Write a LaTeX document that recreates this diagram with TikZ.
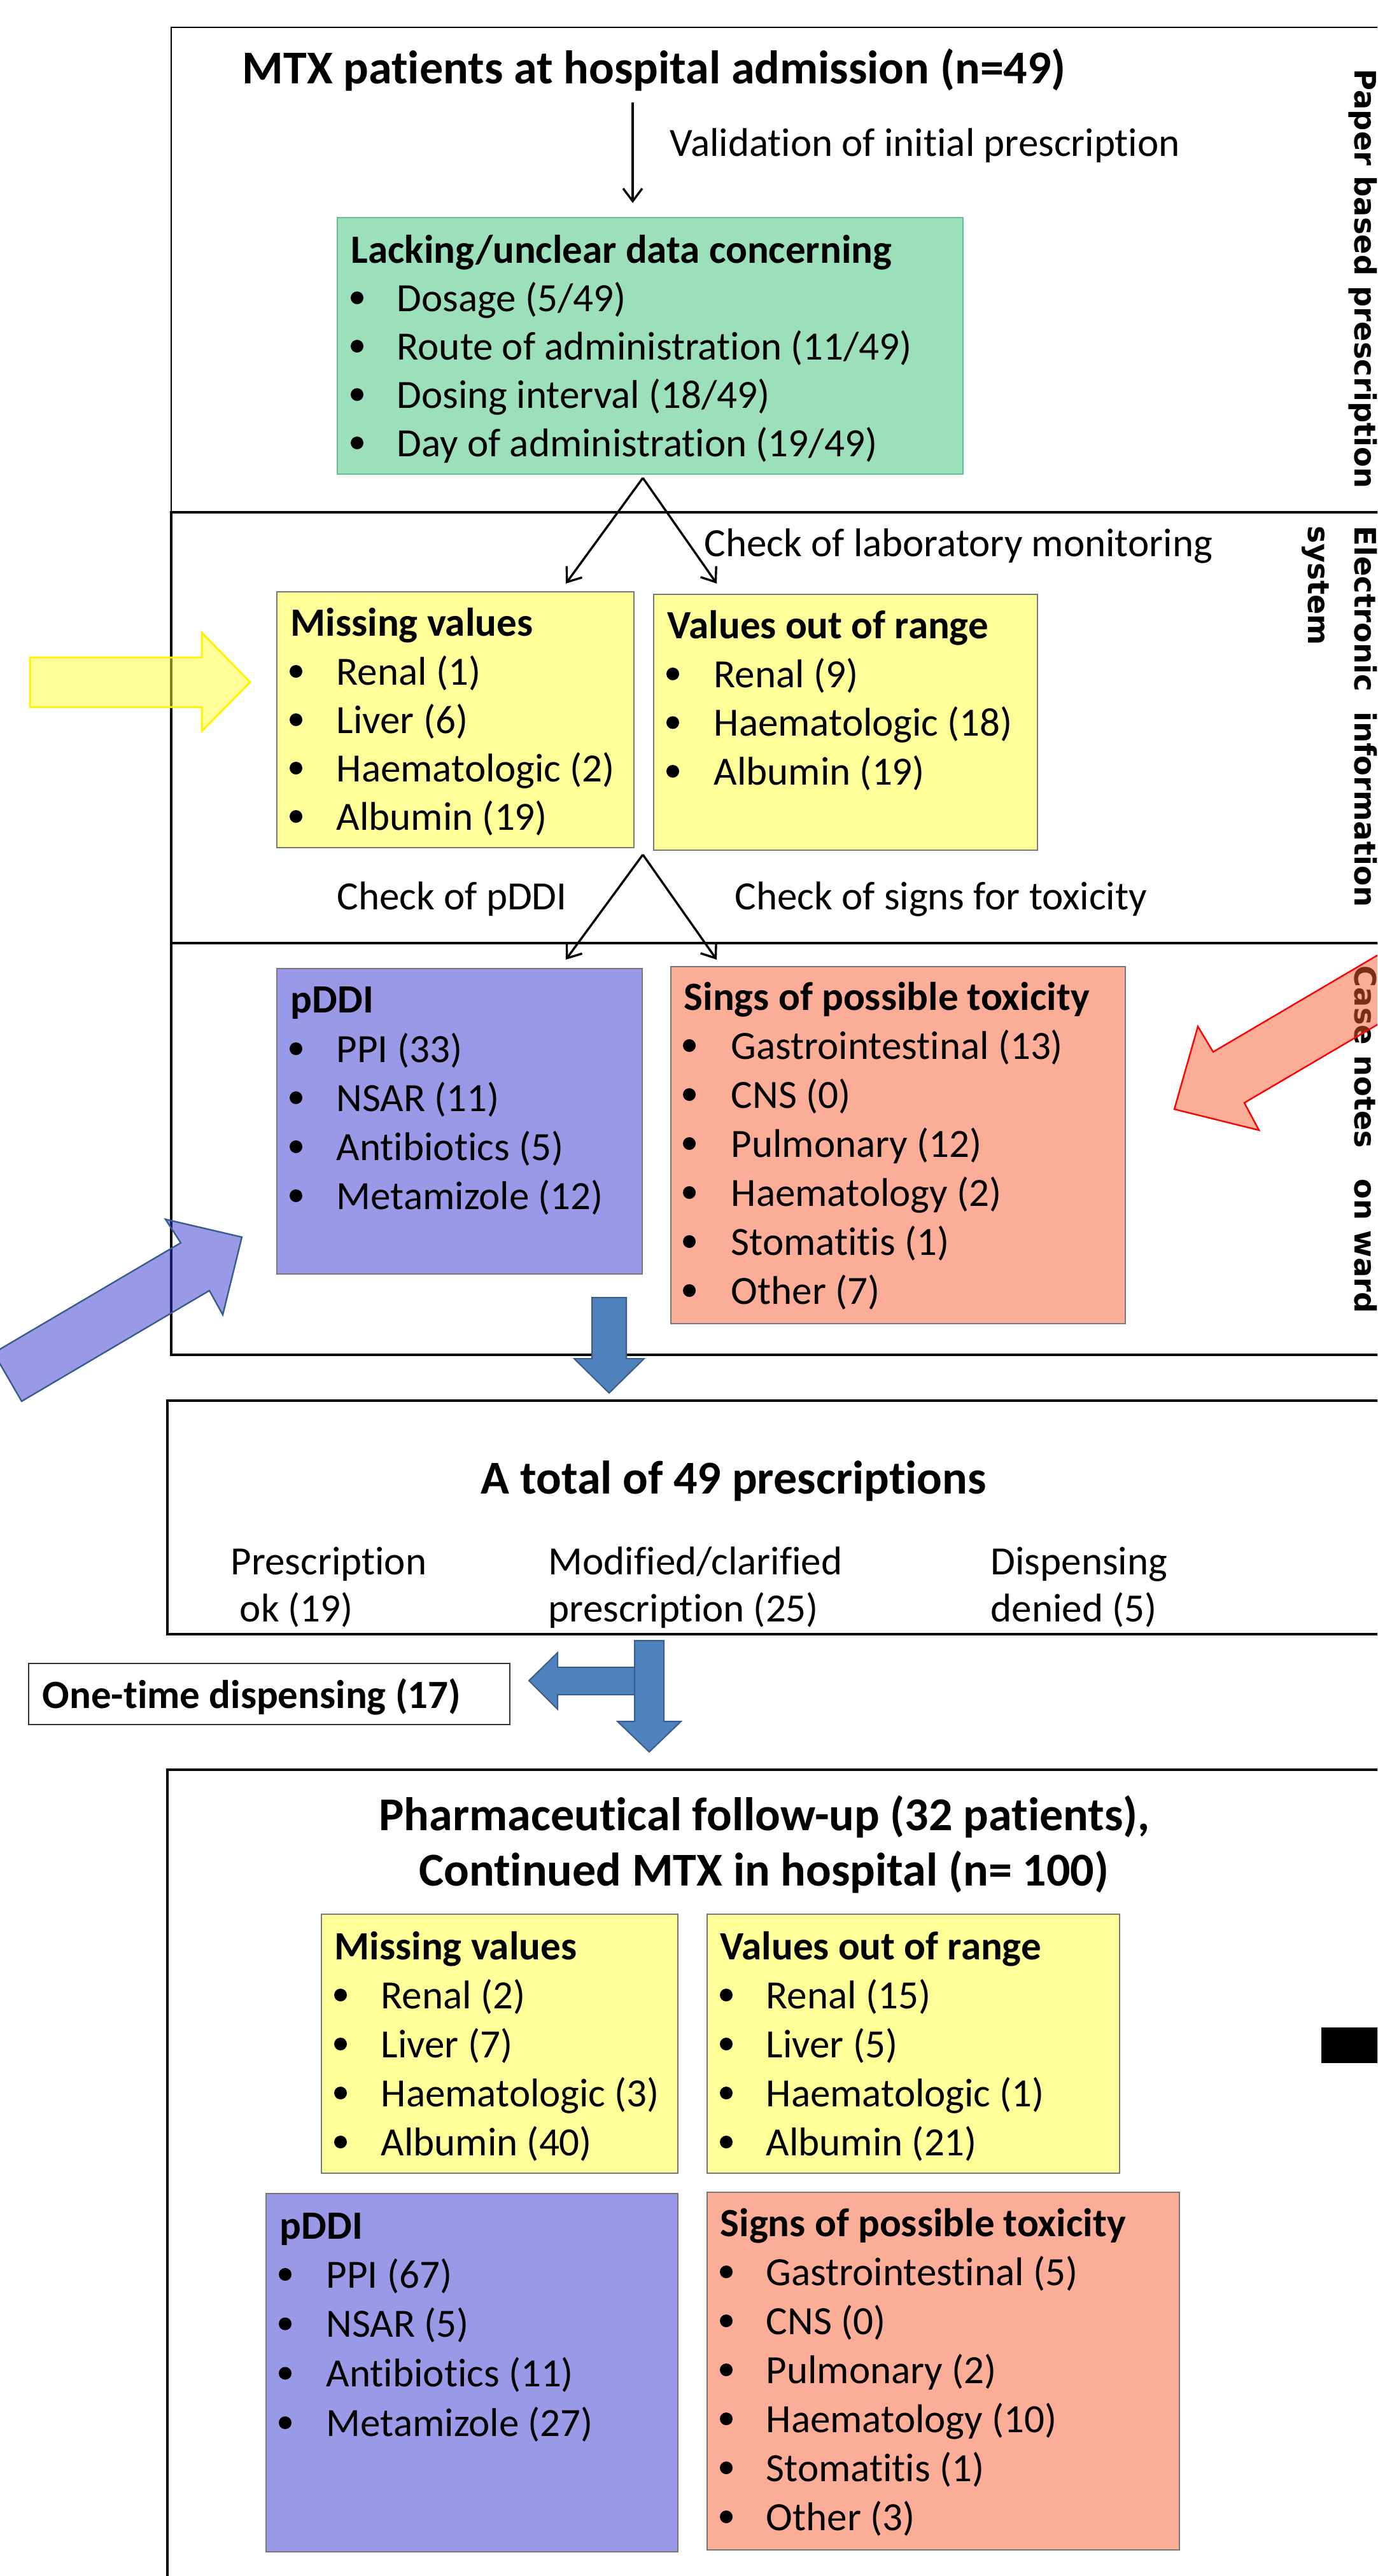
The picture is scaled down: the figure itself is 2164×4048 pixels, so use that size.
\documentclass[tikz,border=0pt]{standalone}
\usepackage{fontspec}
\setmainfont{Carlito}[Ligatures=NoCommon]
\newfontfamily\sidefont{DejaVu Sans}
\usetikzlibrary{arrows.meta,fit}
\definecolor{gfill}{RGB}{155,223,187}
\definecolor{gline}{RGB}{95,195,145}
\definecolor{yfill}{RGB}{255,255,153}
\definecolor{pfill}{RGB}{153,153,232}
\definecolor{sfill}{RGB}{252,173,152}
\definecolor{bfill}{RGB}{79,129,189}
\definecolor{bline}{RGB}{56,93,138}
\definecolor{boxline}{RGB}{120,120,120}
\definecolor{yarrow}{RGB}{255,255,51}
\definecolor{parrow}{RGB}{51,51,209}
\definecolor{sarrow}{RGB}{249,91,49}
\newcommand\bodyfont{\fontsize{15.75pt}{19pt}\selectfont}
\newcommand\headfont{\fontsize{18.5pt}{22pt}\selectfont\bfseries}
\newcommand\sidelab{\sidefont\bfseries\fontsize{11.6pt}{14pt}\selectfont}
\newcommand\blist[6]{%
  \foreach \t [count=\i from 0] in {#6}{%
    \node[dot] (#1b\i) at (#2,{#4+\i*#5-21}) {};
    \node[txt, anchor=base west] (#1t\i) at (#3,{#4+\i*#5}) {\t};
  }}
\begin{document}
\begin{tikzpicture}[x=0.25pt, y=-0.25pt,
  txt/.style={inner sep=0pt, font=\bodyfont},
  btxt/.style={inner sep=0pt, font=\bodyfont\bfseries},
  htxt/.style={inner sep=0pt, font=\headfont},
  dot/.style={circle, fill=black, inner sep=0pt, minimum size=5pt},
  side/.style={inner sep=0pt, font=\sidelab, rotate=-90, anchor=base west},
  secthin/.style={draw=black, line width=0.55pt, inner sep=0pt},
  secthick/.style={draw=black, line width=0.95pt, inner sep=0pt},
  gbox/.style={draw=gline, fill=gfill, line width=0.35pt, inner sep=0pt},
  ybox/.style={draw=boxline, fill=yfill, line width=0.35pt, inner sep=0pt},
  pbox/.style={draw=boxline, fill=pfill, line width=0.35pt, inner sep=0pt},
  sbox/.style={draw=boxline, fill=sfill, line width=0.35pt, inner sep=0pt},
  wbox/.style={draw=black!80, line width=0.45pt, inner sep=0pt},
  conn/.style={line width=0.85pt, -{Straight Barb[length=5pt,width=7.5pt,line width=0.85pt]}},
  bluearrow/.style={fill=bfill, draw=bline, line width=0.5pt}
]
\useasboundingbox (0,0) rectangle (2164,4048);
\clip (0,0) rectangle (2164,4048);

% sections
\node[secthin, fit={(269,43) (2220,805)}] (s1) {};
\node[secthick, fit={(269,805) (2220,1482)}] (s2) {};
\node[secthick, fit={(269,1482) (2220,2129)}] (s3) {};
\node[secthick, fit={(263,2201) (2220,2568)}] (s4) {};
\node[secthick, fit={(263,2781) (2220,4080)}] (s5) {};

% coloured boxes
\node[gbox, fit={(530,342) (1513,745)}] (green) {};
\node[ybox, fit={(435,930) (996,1332)}] (mv1) {};
\node[ybox, fit={(1027,934) (1630,1336)}] (vr1) {};
\node[pbox, fit={(435,1522) (1009,2002)}] (pd1) {};
\node[sbox, fit={(1054,1519) (1768,2080)}] (tx1) {};
\node[wbox, fit={(45,2614) (801,2710)}] (once) {};
\node[ybox, fit={(505,3008) (1065,3415)}] (mv2) {};
\node[ybox, fit={(1111,3008) (1759,3415)}] (vr2) {};
\node[pbox, fit={(418,3447) (1065,4010)}] (pd2) {};
\node[sbox, fit={(1111,3445) (1853,4007)}] (tx2) {};

% texts
\node[htxt, anchor=base west] (title) at (380,131) {MTX patients at hospital admission (n=49)};
\node[txt, anchor=base west] (valid) at (1052,245) {Validation of initial prescription};
\node[btxt, anchor=base west] (gt) at (551,413) {Lacking/unclear data concerning};
\blist{g}{561}{623}{489}{76}{Dosage (5/49),Route of administration (11/49),Dosing interval (18/49),Day of administration (19/49)}
\node[txt, anchor=base west] (chklab) at (1106,874) {Check of laboratory monitoring};
\node[btxt, anchor=base west] (mv1t) at (456,999) {Missing values};
\blist{m}{465}{528}{1076}{76}{Renal (1),Liver (6),Haematologic (2),Albumin (19)}
\node[btxt, anchor=base west] (vr1t) at (1048,1003) {Values out of range};
\blist{v}{1057}{1121}{1080}{76.5}{Renal (9),Haematologic (18),Albumin (19)}
\node[txt, anchor=base west] (chkp) at (529,1429) {Check of pDDI};
\node[txt, anchor=base west] (chks) at (1154,1429) {Check of signs for toxicity};
\node[btxt, anchor=base west] (pd1t) at (456,1591) {pDDI};
\blist{p}{465}{528}{1669}{77}{PPI (33),NSAR (11),Antibiotics (5),Metamizole (12)}
\node[btxt, anchor=base west] (tx1t) at (1074,1587) {Sings of possible toxicity};
\blist{s}{1083}{1148}{1664}{77}{Gastrointestinal (13),CNS (0),Pulmonary (12),Haematology (2),Stomatitis (1),Other (7)}
\node[htxt, anchor=base west] (tot) at (755,2347) {A total of 49 prescriptions};
\node[txt, anchor=base west] (ok1) at (362,2474) {Prescription};
\node[txt, anchor=base west] (ok2) at (376,2548) {ok (19)};
\node[txt, anchor=base west] (mod1) at (861,2474) {Modified/clarified};
\node[txt, anchor=base west] (mod2) at (861,2548) {prescription (25)};
\node[txt, anchor=base west] (den1) at (1556,2474) {Dispensing};
\node[txt, anchor=base west] (den2) at (1556,2548) {denied (5)};
\node[btxt, anchor=base west] (oncet) at (66,2684) {One-time dispensing (17)};
\node[htxt, anchor=base] (ph1) at (1201,2876) {Pharmaceutical follow-up (32 patients),};
\node[htxt, anchor=base] (ph2) at (1200,2963) {Continued MTX in hospital (n= 100)};
\node[btxt, anchor=base west] (mv2t) at (525,3079) {Missing values};
\blist{mm}{535}{598}{3156}{77}{Renal (2),Liver (7),Haematologic (3),Albumin (40)}
\node[btxt, anchor=base west] (vr2t) at (1131,3079) {Values out of range};
\blist{vv}{1141}{1203}{3156}{77}{Renal (15),Liver (5),Haematologic (1),Albumin (21)}
\node[btxt, anchor=base west] (pd2t) at (439,3518) {pDDI};
\blist{pp}{448}{512}{3595}{77.7}{PPI (67),NSAR (5),Antibiotics (11),Metamizole (27)}
\node[btxt, anchor=base west] (tx2t) at (1131,3514) {Signs of possible toxicity};
\blist{ss}{1141}{1203}{3591}{77}{Gastrointestinal (5),CNS (0),Pulmonary (2),Haematology (10),Stomatitis (1),Other (3)}

% side labels
\node[side] (lab1) at (2128,108) {Paper based prescription};
\node[side] (lab2) at (2128,826) {Electronic\hspace{8pt}information};
\node[side] (lab2b) at (2055,826) {system};
\node[side] (lab3) at (2128,1517) {Case notes\hspace{12pt}on ward};

% thin connectors
\coordinate (v1) at (994,161);
\coordinate (v2) at (994,319);
\draw[conn] (v1) -- (v2);
\coordinate (a1) at (1010,751);
\coordinate (a1l) at (889,917);
\coordinate (a1r) at (1126,917);
\draw[conn] (a1) -- (a1l);
\draw[conn] (a1) -- (a1r);
\coordinate (a2) at (1010,1343);
\coordinate (a2l) at (889,1508);
\coordinate (a2r) at (1126,1508);
\draw[conn] (a2) -- (a2l);
\draw[conn] (a2) -- (a2r);

% block arrows
\draw[bluearrow] (930,2039) -- (984,2039) -- (984,2135) -- (1012,2135) -- (957,2189) -- (902,2135) -- (930,2135) -- cycle;
\draw[bluearrow] (1000,2620) -- (876,2620) -- (876,2597) -- (831,2641) -- (876,2686) -- (876,2663) -- (1000,2663) -- cycle;
\draw[bluearrow] (997,2578) -- (1043,2578) -- (1043,2705) -- (1070,2705) -- (1020,2753) -- (970,2705) -- (997,2705) -- cycle;
\draw[draw=yellow, fill=yarrow, fill opacity=0.5, line width=0.75pt] (47,1033) -- (317,1033) -- (317,994) -- (393,1072) -- (317,1149) -- (317,1111) -- (47,1111) -- cycle;
\draw[draw=bline, fill=parrow, fill opacity=0.5, line width=0.6pt] (380,1944) -- (260,1916) -- (284,1953) -- (-10,2126) -- (34,2202) -- (329,2028) -- (350,2066) -- cycle;
\draw[draw=red, fill=sarrow, fill opacity=0.5, line width=0.6pt] (1845,1743) -- (1882,1613) -- (1906,1653) -- (2200,1480) -- (2200,1589) -- (1955,1733) -- (1978,1776) -- cycle;
\fill[black] (2076,3186) rectangle (2200,3242);
\end{tikzpicture}
\end{document}
